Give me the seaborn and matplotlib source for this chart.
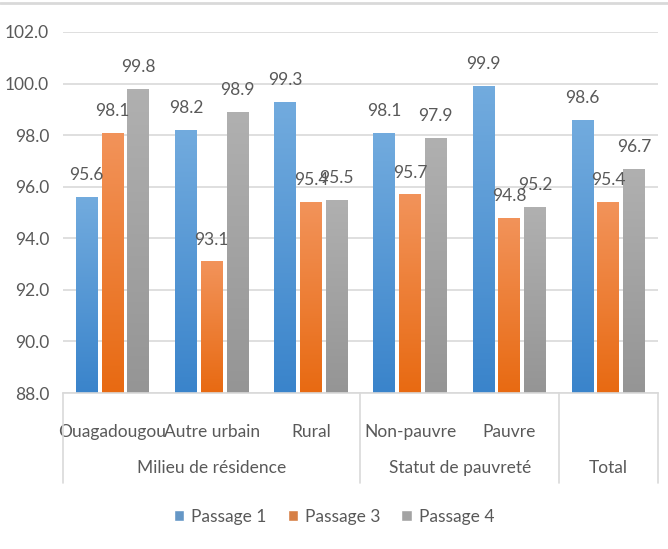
import matplotlib
matplotlib.use("Agg")
import matplotlib.pyplot as plt
import matplotlib.colors as mcolors
import numpy as np
import pandas as pd
import seaborn as sns

categories = ["Ouagadougou", "Autre urbain", "Rural", "Non-pauvre", "Pauvre", "Total"]
tick_labels = ["Ouagadougou", "Autre urbain", "Rural", "Non-pauvre", "Pauvre", ""]
groups = ["Milieu de résidence", "Statut de pauvreté", "Total"]
group_sizes = [3, 2, 1]
series = ["Passage 1", "Passage 3", "Passage 4"]
passage_1 = [95.6, 98.2, 99.3, 98.1, 99.9, 98.6]
passage_3 = [98.1, 93.1, 95.4, 95.7, 94.8, 95.4]
passage_4 = [99.8, 98.9, 95.5, 97.9, 95.2, 96.7]

colors = ["#5597D6", "#EE7A2E", "#A3A3A3"]
grad_top = ["#72ABDE", "#F2935A", "#B0B0B0"]
grad_bottom = ["#3A84CB", "#E86A12", "#959595"]
text_color = "#595959"
fs = 12.5

rows = []
for s, vals in zip(series, [passage_1, passage_3, passage_4]):
    for c, v in zip(categories, vals):
        rows.append({"categorie": c, "passage": s, "valeur": v})
df = pd.DataFrame(rows)

sns.set_style("white")
plt.rcParams["font.family"] = ["Lato", "DejaVu Sans"]

W, H = 668, 549
fig = plt.figure(figsize=(W / 100, H / 100), dpi=100)
ax = fig.add_axes([63 / W, 1 - 393 / H, (658 - 63) / W, (393 - 32) / H])

sns.barplot(data=df, x="categorie", y="valeur", hue="passage", order=categories,
            hue_order=series, palette=colors, width=0.78, gap=0.15, ax=ax,
            legend=True, errorbar=None)

ax.set_ylim(88, 102)
ax.set_yticks(np.arange(88, 102.1, 2))
ax.set_yticklabels([f"{t:.1f}" for t in np.arange(88, 102.1, 2)], fontsize=fs, color=text_color)
ax.grid(axis="y", color="#D9D9D9", linewidth=1.2)
ax.set_axisbelow(True)
for side in ["left", "right", "top"]:
    ax.spines[side].set_visible(False)
ax.spines["bottom"].set_color("#D9D9D9")
ax.spines["bottom"].set_linewidth(1.2)
ax.tick_params(axis="y", length=0, pad=10)
ax.tick_params(axis="x", length=0, pad=22)
ax.set_xticks(range(len(categories)))
ax.set_xticklabels(tick_labels, fontsize=fs, color=text_color)
ax.set_xlabel("")
ax.set_ylabel("")

# gradient fill in bars, Excel style
for container, top, bot in zip(ax.containers, grad_top, grad_bottom):
    cmap = mcolors.LinearSegmentedColormap.from_list("g", [bot, top])
    for bar in container:
        x0, y0 = bar.get_x(), bar.get_y()
        w, h = bar.get_width(), bar.get_height()
        grad = np.linspace(0, 1, 100).reshape(-1, 1)
        im = ax.imshow(grad, cmap=cmap, aspect="auto", origin="lower",
                       extent=[x0, x0 + w, 88, y0 + h], zorder=2)
        im.set_clip_path(bar)
        bar.set_alpha(0)
    ax.bar_label(container, fmt="%.1f", padding=10, fontsize=fs, color=text_color)
ax.set_xlim(-0.5, len(categories) - 0.5)
ax.set_ylim(88, 102)

# group labels and separators
trans = ax.get_xaxis_transform()
edges = np.concatenate([[0], np.cumsum(group_sizes)]) - 0.5
for x in edges:
    ax.plot([x, x], [0, -90 / 361], transform=trans, color="#D9D9D9",
            linewidth=1.2, clip_on=False)
for g, a, b in zip(groups, edges[:-1], edges[1:]):
    ax.text((a + b) / 2, -75 / 361, g, transform=trans, ha="center", va="center",
            fontsize=fs, color=text_color)

handles, labels = ax.get_legend_handles_labels()
ax.get_legend().remove()
fig.legend(handles, labels, loc="center", bbox_to_anchor=(0.5, 1 - 517 / H), ncol=3,
           frameon=False, fontsize=fs, handlelength=0.6, handleheight=0.6,
           handletextpad=0.4, columnspacing=1.2, labelcolor=text_color)

fig.add_artist(plt.Line2D([0, 1], [1 - 3 / H, 1 - 3 / H], color="#D9D9D9", linewidth=2))

fig.savefig("out.png", dpi=100)
plt.close()
